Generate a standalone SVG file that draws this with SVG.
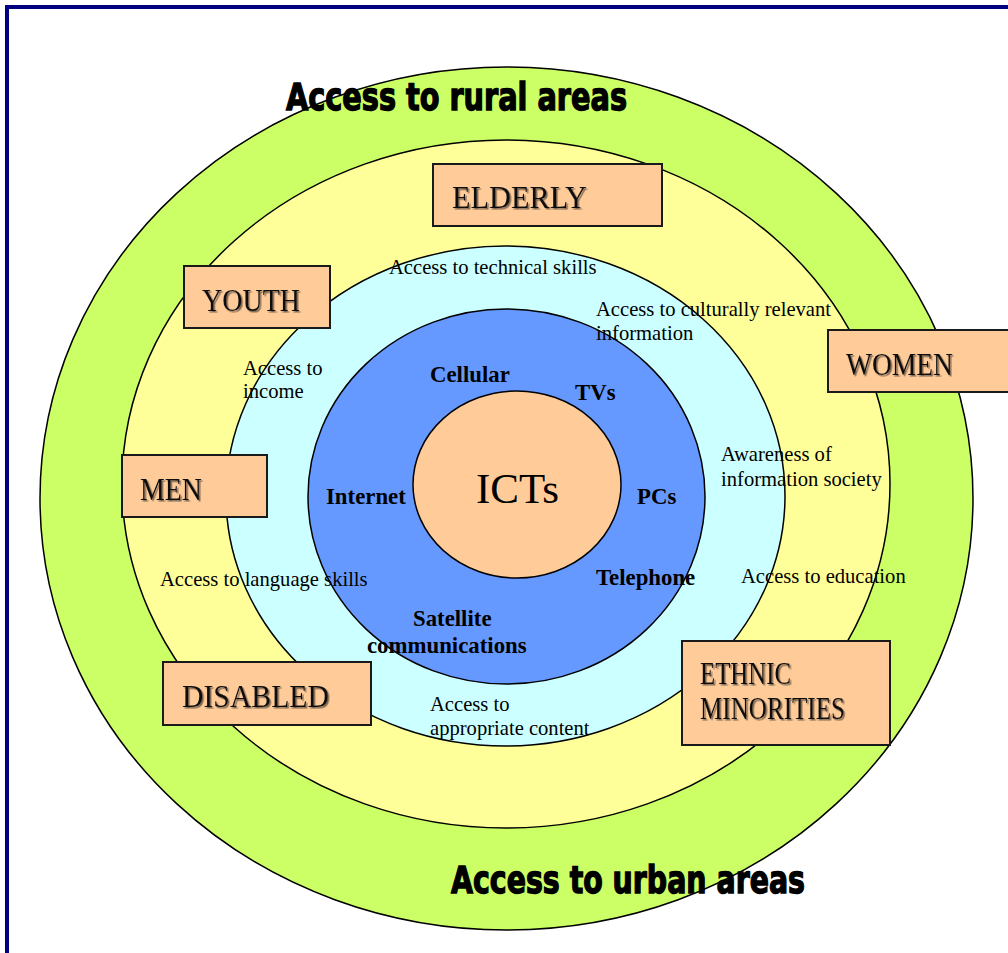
<svg xmlns="http://www.w3.org/2000/svg" width="1008" height="953" viewBox="0 0 1008 953">
<defs>
<filter id="sh" x="-10%" y="-20%" width="130%" height="150%">
<feDropShadow dx="1.5" dy="1.5" stdDeviation="0.4" flood-color="#7a6450" flood-opacity="1"/>
</filter>
<style>
.ring{stroke:#000;stroke-width:1.5}
.box{fill:#FFCC99;stroke:#1a1a1a;stroke-width:2}
.lbl{font-family:"Liberation Serif",serif;font-size:31px;fill:#111;filter:url(#sh)}
.t{font-family:"Liberation Serif",serif;font-size:20.6px;fill:#000}
.b{font-family:"Liberation Serif",serif;font-size:22.8px;font-weight:bold;fill:#000}
.big{font-family:"DejaVu Sans",sans-serif;font-size:37px;font-weight:bold;fill:#000;stroke:#000;stroke-width:1.4}
</style>
</defs>
<rect width="1008" height="953" fill="#fff"/>
<g id="frame" fill="#000080">
<rect x="5" y="5" width="1003" height="4"/>
<rect x="5" y="5" width="4" height="948"/>
</g>
<g id="rings">
<ellipse id="ring-outer" class="ring" cx="506.5" cy="498.5" rx="466.5" ry="431.5" fill="#CCFF66"/>
<ellipse id="ring-yellow" class="ring" cx="506" cy="484" rx="384" ry="344" fill="#FFFF99"/>
<ellipse id="ring-cyan" class="ring" cx="505.5" cy="496" rx="279.5" ry="250" fill="#CCFFFF"/>
<ellipse id="ring-blue" class="ring" cx="506.5" cy="496.5" rx="198.5" ry="187.5" fill="#6699FF"/>
<ellipse id="ring-core" class="ring" cx="517" cy="484.5" rx="104" ry="93.5" fill="#FFCC99"/>
</g>
<g id="connectors"/>
<g id="titles">
<text class="big" x="286" y="110" textLength="341" lengthAdjust="spacingAndGlyphs">Access to rural areas</text>
<text class="big" x="451" y="893" textLength="354" lengthAdjust="spacingAndGlyphs">Access to urban areas</text>
</g>
<g id="access-labels">
<text class="t" x="389" y="274">Access to technical skills</text>
<text class="t" x="596" y="316">Access to culturally relevant</text>
<text class="t" x="596" y="340">information</text>
<text class="t" x="243" y="375">Access to</text>
<text class="t" x="243" y="398">income</text>
<text class="t" x="721" y="461">Awareness of</text>
<text class="t" x="721" y="486">information society</text>
<text class="t" x="160" y="586">Access to language skills</text>
<text class="t" x="741" y="583">Access to education</text>
<text class="t" x="430" y="711">Access to</text>
<text class="t" x="430" y="735">appropriate content</text>
</g>
<g id="ict-labels">
<text class="b" x="430" y="382">Cellular</text>
<text class="b" x="575" y="400">TVs</text>
<text class="b" x="326" y="504">Internet</text>
<text class="b" x="637" y="504">PCs</text>
<text class="b" x="596" y="585">Telephone</text>
<text class="b" x="413" y="626">Satellite</text>
<text class="b" x="367" y="653">communications</text>
<text x="476" y="503" font-family="Liberation Serif, serif" font-size="43">ICTs</text>
</g>
<g id="node-elderly">
<rect class="box" x="433" y="164" width="229" height="62"/>
<text class="lbl" x="452" y="208" textLength="135" lengthAdjust="spacingAndGlyphs">ELDERLY</text>
</g>
<g id="node-youth">
<rect class="box" x="184" y="266" width="146" height="62"/>
<text class="lbl" x="202" y="311" textLength="98" lengthAdjust="spacingAndGlyphs">YOUTH</text>
</g>
<g id="node-women">
<rect class="box" x="828" y="330" width="185" height="62"/>
<text class="lbl" x="846" y="375" textLength="107" lengthAdjust="spacingAndGlyphs">WOMEN</text>
</g>
<g id="node-men">
<rect class="box" x="122" y="455" width="145" height="62"/>
<text class="lbl" x="140" y="500" textLength="62" lengthAdjust="spacingAndGlyphs">MEN</text>
</g>
<g id="node-disabled">
<rect class="box" x="163" y="662" width="208" height="63"/>
<text class="lbl" x="182" y="707" textLength="147" lengthAdjust="spacingAndGlyphs">DISABLED</text>
</g>
<g id="node-ethnic">
<rect class="box" x="682" y="641" width="208" height="104"/>
<text class="lbl" x="700" y="684" textLength="91" lengthAdjust="spacingAndGlyphs">ETHNIC</text>
<text class="lbl" x="700" y="719" textLength="145" lengthAdjust="spacingAndGlyphs">MINORITIES</text>
</g>
</svg>
